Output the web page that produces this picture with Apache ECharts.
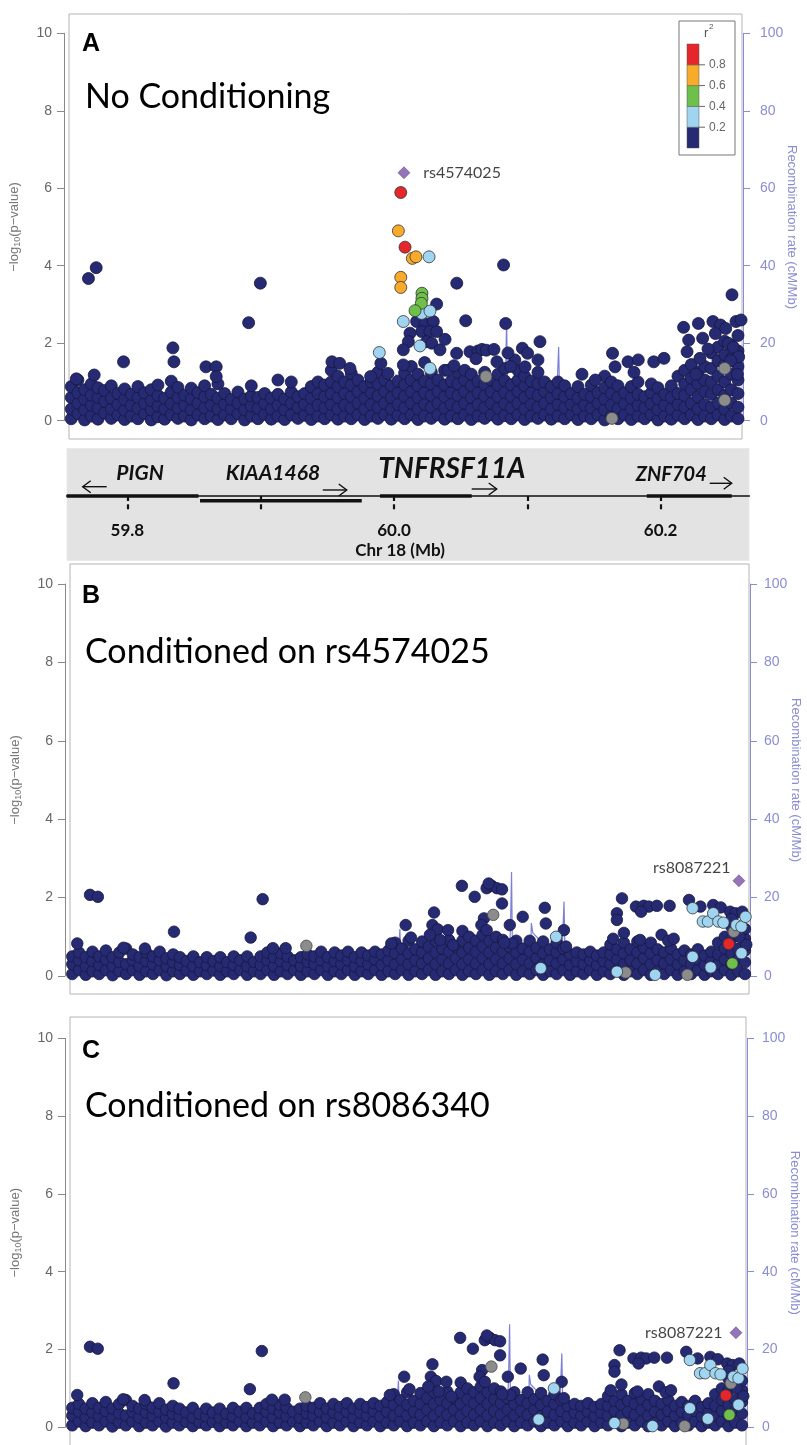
<!DOCTYPE html>
<html><head><meta charset="utf-8">
<script src="https://cdn.jsdelivr.net/npm/echarts@6/dist/echarts.min.js"></script>
<style>html,body{margin:0;padding:0;background:#fff}#c{width:807px;height:1445px}</style>
</head><body><div id="c"></div>
<script>
// ---------------- DATA ----------------
const xTicks = [59.8, 59.9, 60.0, 60.1, 60.2];
const xTickLabels = {'59.8':'59.8','60':'60.0','60.2':'60.2'};
const xMin = 59.7563, xMax = 60.2610;           // plotted region (Mb)
const geneXMin = 59.7545, geneXMax = 60.2665;   // gene track extent (Mb)
const pTicks = [0, 2, 4, 6, 8, 10];
const recTicks = [0, 20, 40, 60, 80, 100];
const r2Labels = ['0.2', '0.4', '0.6', '0.8'];
const r2Colors = ['#262a73', '#9fd5f1', '#6fbf4b', '#f8aa2b', '#e5262a'];
const grayColor = '#8c8c8c', leadColor = '#7b52a5';
const panelLetters = ['A', 'B', 'C'];
const panelTitles = ['No Conditioning', 'Conditioned on rs4574025', 'Conditioned on rs8086340'];
const leadSnpNames = ['rs4574025', 'rs8087221', 'rs8087221'];

const genes = ['PIGN', 'KIAA1468', 'TNFRSF11A', 'ZNF704'];
const geneStart = [59.7545, 59.8545, 59.9895, 60.1896];
const geneEnd = [59.8533, 59.9758, 60.0583, 60.2533];
const geneStrand = [-1, 1, 1, 1];
const geneRow = [0, 1, 0, 0];

// recombination rate (cM/Mb)
const recombPos = [59.7563,59.80,59.85,59.90,59.95,59.990,59.9995,60.0005,60.0015,60.0025,60.02,60.05,60.082,60.0837,60.0845,60.0853,60.09,60.0985,60.0992,60.1003,60.1045,60.11,60.1215,60.1225,60.1235,60.1245,60.14,60.18,60.22,60.261];
const recombRate = [0.4,0.3,0.5,0.4,0.6,0.9,1.2,6,12,1.2,0.8,0.9,1.2,12,26.5,1.5,1.1,1.0,13.5,11,9.5,1.2,1.0,10,19,1.2,0.6,0.4,0.3,0.3];

// Panel A: dense low band, columns [position, -log10 p values ...] (r2 < 0.2)
const bandA = [
[59.758,0.05,0.3,0.6,0.88],[59.763,0.18,0.45,0.72,1.05],[59.768,0.02,0.28,0.55,0.8],[59.773,0.12,0.4,0.66,0.95],
[59.778,0.04,0.33,0.6,0.85],[59.783,0.2,0.5,0.78],[59.788,0.06,0.3,0.58,0.9],[59.793,0.15,0.42,0.7],
[59.798,0.03,0.27,0.55,0.82],[59.803,0.12,0.4,0.68],[59.808,0.05,0.32,0.6,0.88],[59.813,0.18,0.45,0.72],
[59.818,0.02,0.28,0.52,0.8],[59.823,0.1,0.38,0.65,0.92],[59.828,0.04,0.3,0.58],[59.833,0.16,0.44,0.74,1.02],
[59.838,0.06,0.32,0.6,0.86],[59.843,0.12,0.4,0.66],[59.848,0.02,0.28,0.56,0.84],[59.853,0.15,0.45,0.72],
[59.858,0.05,0.33,0.62,0.9],[59.863,0.12,0.4,0.68],[59.868,0.03,0.3,0.58,0.95],[59.873,0.15,0.42,0.7],
[59.878,0.05,0.3,0.55],[59.883,0.18,0.45,0.74],[59.888,0.02,0.28,0.56],[59.893,0.12,0.38,0.64,0.9],
[59.898,0.05,0.32,0.6],[59.903,0.16,0.44,0.7],[59.908,0.04,0.3,0.58],[59.913,0.12,0.4,0.68,1.05],
[59.918,0.03,0.28,0.56],[59.923,0.15,0.45,0.74,1.0],[59.928,0.06,0.34,0.62],[59.933,0.14,0.42,0.7],
[59.938,0.03,0.3,0.58,0.88],[59.943,0.12,0.4,0.7,1.0],[59.948,0.05,0.33,0.62,0.92],[59.953,0.15,0.42,0.7,1.0,1.3],
[59.958,0.04,0.3,0.6,0.88,1.15],[59.963,0.12,0.4,0.7,1.0],[59.968,0.05,0.32,0.62,0.92,1.22],[59.973,0.15,0.45,0.75,1.05],
[59.978,0.03,0.3,0.58,0.88],[59.983,0.12,0.42,0.72,1.0],[59.988,0.06,0.34,0.64,0.95,1.25],[59.993,0.16,0.45,0.75,1.05],
[59.998,0.04,0.3,0.6,0.9],[60.003,0.14,0.42,0.72,1.02],[60.008,0.05,0.33,0.63,0.93,1.23],[60.013,0.15,0.45,0.75,1.05,1.4],
[60.018,0.03,0.3,0.6,0.9,1.2],[60.023,0.12,0.42,0.72,1.02,1.5],[60.028,0.06,0.35,0.65,0.95,1.25],[60.033,0.15,0.45,0.75,1.05],
[60.038,0.04,0.32,0.62,0.92,1.3],[60.043,0.12,0.42,0.72,1.02],[60.048,0.05,0.35,0.65,0.95,1.25],[60.053,0.15,0.45,0.75,1.05,1.3],
[60.058,0.03,0.3,0.6,0.9,1.2],[60.063,0.12,0.42,0.72,1.02],[60.068,0.06,0.34,0.64,0.94,1.25],[60.073,0.15,0.45,0.75,1.05],
[60.078,0.04,0.32,0.62,0.92,1.2],[60.083,0.13,0.43,0.73,1.03,1.35],[60.088,0.05,0.33,0.63,0.93],[60.093,0.15,0.45,0.75,1.05,1.3],
[60.098,0.03,0.3,0.6,0.9,1.15],[60.103,0.12,0.42,0.72,1.02],[60.108,0.06,0.35,0.65,0.95,1.25],[60.113,0.15,0.45,0.75,1.0],
[60.118,0.04,0.3,0.6,0.88],[60.123,0.12,0.42,0.7,1.0],[60.128,0.05,0.33,0.62,0.9],[60.133,0.15,0.42,0.7],
[60.138,0.03,0.3,0.58,0.88],[60.143,0.12,0.4,0.68],[60.148,0.05,0.33,0.62,0.92],[60.153,0.15,0.45,0.72],
[60.158,0.02,0.28,0.56,0.85,1.15],[60.163,0.12,0.4,0.7,1.0],[60.168,0.05,0.32,0.6,0.9],[60.173,0.15,0.44,0.72],
[60.178,0.03,0.3,0.58,0.88],[60.183,0.12,0.4,0.68,1.0],[60.188,0.05,0.33,0.62],[60.193,0.15,0.44,0.72,0.95],
[60.198,0.02,0.28,0.56,0.85],[60.203,0.12,0.4,0.68],[60.208,0.04,0.3,0.6,0.9],[60.213,0.14,0.42,0.7,1.15],
[60.218,0.05,0.35,0.65,0.95,1.3],[60.223,0.15,0.45,0.8,1.1,1.45],[60.228,0.03,0.3,0.62,0.95,1.25],[60.233,0.12,0.42,0.75,1.05,1.4],
[60.238,0.05,0.35,0.68,1.0,1.35,1.75],[60.243,0.15,0.45,0.8,1.15,1.55,1.9],[60.248,0.03,0.3,0.65,1.0,1.45,1.7,2.05],
[60.253,0.12,0.45,0.8,1.2,1.6,1.95],[60.258,0.05,0.35,0.7,1.05,1.4,1.8,2.2]
];
const navyA = [
[59.7709,3.67],[59.7767,3.95],[59.7618,1.08],[59.7752,1.18],[59.7972,1.52],[59.8342,1.88],[59.835,1.52],
[59.859,1.39],[59.8667,1.39],[59.8667,1.14],[59.891,2.53],[59.8998,3.55],
[59.9535,1.52],[59.9593,1.48],[59.967,1.35],[59.9825,1.14],[59.9902,1.48],[59.9955,1.22],
[60.0170,2.56],[60.0233,2.51],[60.0295,2.56],[60.0208,2.30],[60.0270,2.30],[60.0320,2.30],[60.0120,2.26],
[60.0108,2.04],[60.0245,2.04],[60.0283,2.0],[60.0070,1.83],[60.0345,1.83],[60.0383,2.10],[60.0070,1.44],
[60.0320,3.01],[60.0471,3.55],[60.0538,2.58],[60.0822,4.02],[60.0838,2.51],[60.1095,2.04],
[60.0470,1.74],[60.0570,1.78],[60.0630,1.80],[60.0660,1.84],[60.0693,1.82],[60.0750,1.84],[60.0772,1.52],
[60.0963,1.87],[60.1002,1.74],[60.1080,1.57],[60.0983,1.39],[60.0906,1.57],[60.0405,1.3],[60.045,1.42],
[60.0615,1.6],[60.0855,1.75],[60.0875,1.4],
[60.1639,1.74],[60.1658,1.39],[60.1755,1.52],[60.1832,1.57],[60.1948,1.52],[60.2025,1.61],[60.141,1.2],[60.151,1.05],[60.18,1.25],
[60.2172,2.41],[60.2283,2.51],[60.2392,2.56],[60.2449,2.47],[60.2488,2.38],[60.2565,2.56],[60.2603,2.60],[60.2210,2.08],
[60.2315,2.13],[60.2410,2.25],[60.2198,1.78],[60.2295,1.61],[60.2507,2.0],[60.2535,3.25],[60.2545,1.9],[60.2585,1.65],
[60.2525,1.55],[60.2575,1.2],[60.2355,1.85],[60.2265,1.2]
];
const lightBlueA = [[60.0263,4.23],[59.9890,1.76],[60.0070,2.56],[60.0195,1.93],[60.0208,2.77],[60.0270,2.83],[60.0270,1.35]];
const greenA = [[60.0210,3.29],[60.0210,3.16],[60.0205,3.03],[60.0158,2.84]];
const orangeA = [[60.0033,4.90],[60.0138,4.19],[60.0165,4.23],[60.0051,3.70],[60.0051,3.44]];
const redA = [[60.0051,5.89],[60.0083,4.48]];
const grayA = [[60.069,1.14],[60.248,1.35],[60.248,0.53],[60.1635,0.06]];
const leadA = [[60.0075,6.40]];

// Panels B and C (conditional analyses; read as identical within reading precision)
const bandBC = [
[59.758,0.05,0.3,0.5],[59.763,0.15,0.4,0.6],[59.768,0.03,0.25,0.48],[59.773,0.12,0.38,0.62],[59.778,0.05,0.28,0.5],
[59.783,0.15,0.42,0.65],[59.788,0.02,0.25,0.48],[59.793,0.12,0.36,0.6],[59.798,0.05,0.3,0.7],[59.803,0.15,0.4,0.55],
[59.808,0.03,0.25,0.48],[59.813,0.12,0.38,0.6],[59.818,0.05,0.3,0.5],[59.823,0.15,0.4,0.62],[59.828,0.02,0.25,0.45],
[59.833,0.12,0.35,0.55],[59.838,0.05,0.28,0.48],[59.843,0.14,0.38],[59.848,0.03,0.25,0.5],[59.853,0.12,0.35],
[59.858,0.05,0.28,0.48],[59.863,0.14,0.38],[59.868,0.03,0.25,0.48],[59.873,0.12,0.35],[59.878,0.05,0.28,0.5],
[59.883,0.15,0.4],[59.888,0.03,0.25,0.5],[59.893,0.12,0.36],[59.898,0.05,0.28,0.5],[59.903,0.15,0.4,0.6],
[59.908,0.03,0.25,0.48],[59.913,0.12,0.38,0.58],[59.918,0.05,0.28,0.5],[59.923,0.15,0.4],[59.928,0.03,0.25,0.48],
[59.933,0.12,0.36,0.55],[59.938,0.05,0.3,0.5],[59.943,0.15,0.4,0.62],[59.948,0.03,0.25,0.48],[59.953,0.12,0.38,0.6],
[59.958,0.05,0.3,0.52],[59.963,0.15,0.4,0.62],[59.968,0.03,0.25,0.48],[59.973,0.12,0.38,0.6],[59.978,0.05,0.3,0.52],
[59.983,0.15,0.42,0.62],[59.988,0.03,0.28,0.55],[59.993,0.12,0.4,0.65],[59.998,0.05,0.3,0.58,0.85],[60.003,0.15,0.42,0.7],
[60.008,0.03,0.3,0.58,0.9],[60.013,0.12,0.4,0.68],[60.018,0.05,0.32,0.6,0.88],[60.023,0.15,0.45,0.75],[60.028,0.03,0.3,0.6,0.9],
[60.033,0.12,0.42,0.7],[60.038,0.05,0.32,0.62,0.92],[60.043,0.15,0.45,0.75],[60.048,0.03,0.3,0.6,0.9,1.15],[60.053,0.12,0.42,0.72,1.0],
[60.058,0.05,0.32,0.62,0.9],[60.063,0.15,0.45,0.75,1.05],[60.068,0.03,0.3,0.6,0.9],[60.073,0.12,0.42,0.72,1.0],[60.078,0.05,0.32,0.62,0.92],
[60.083,0.15,0.45,0.75],[60.088,0.03,0.3,0.6,0.9],[60.093,0.12,0.42,0.7],[60.098,0.05,0.32,0.62,0.9],[60.103,0.15,0.45,0.72],
[60.108,0.03,0.3,0.58,0.88],[60.113,0.12,0.4,0.68],[60.118,0.05,0.32,0.6,0.85],[60.123,0.15,0.42,0.7],[60.128,0.03,0.28,0.55],
[60.133,0.12,0.38,0.6],[60.138,0.05,0.3,0.55],[60.143,0.15,0.4,0.62],[60.148,0.03,0.28,0.52],[60.153,0.12,0.38,0.6],
[60.158,0.05,0.3,0.55,0.8],[60.163,0.15,0.42,0.68],[60.168,0.03,0.3,0.58,0.85],[60.173,0.12,0.4,0.68],[60.178,0.05,0.32,0.6,0.88],
[60.183,0.15,0.45,0.72],[60.188,0.03,0.3,0.58,0.85],[60.193,0.12,0.4,0.68],[60.198,0.05,0.32,0.6],[60.203,0.15,0.42,0.7],
[60.208,0.03,0.3,0.55],[60.213,0.12,0.4,0.65],[60.218,0.05,0.3,0.55],[60.223,0.15,0.42,0.68],[60.228,0.03,0.28,0.52],
[60.233,0.12,0.38,0.62],[60.238,0.05,0.3,0.55,0.85],[60.243,0.15,0.42,0.7,1.0],[60.248,0.03,0.3,0.58,0.95,1.25],
[60.253,0.12,0.42,0.7,1.05],[60.258,0.05,0.35,0.65,0.95,1.2]
];
const navyBC = [
[59.7617,0.83],[59.7712,2.07],[59.7770,2.02],[59.8336,1.13],[59.8906,0.98],[59.8995,1.96],[59.9071,0.71],[59.9166,0.71],[59.7960,0.72],[59.8120,0.7],
[59.9951,0.83],[60.0097,0.98],[60.0058,1.3],[60.0269,1.62],[60.0257,1.30],[60.0296,1.19],[60.0373,1.17],[60.0238,1.05],[60.0315,0.92],[60.0411,0.79],
[60.0476,2.30],[60.0571,2.02],[60.0660,2.24],[60.0698,2.30],[60.0736,2.24],[60.0675,2.36],[60.0774,2.21],[60.0640,1.47],[60.0621,1.30],[60.0660,1.17],
[60.0774,1.85],[60.0832,1.30],[60.0928,1.51],[60.0851,0.83],[60.0790,0.85],[60.1092,1.74],[60.1100,1.34],[60.1234,1.17],[60.1250,0.75],
[60.1666,1.98],[60.1628,1.60],[60.1628,1.43],[60.1770,1.77],[60.1827,1.79],[60.1865,1.77],[60.1808,1.64],[60.1925,1.79],[60.2020,1.79],
[60.1600,0.95],[60.1680,1.1],[60.1800,0.92],[60.1960,1.05],[60.2010,0.9],[60.2050,0.95],
[60.2164,1.94],[60.2249,1.77],[60.2344,1.81],[60.2400,1.75],[60.2470,1.64],[60.2510,1.60],[60.2560,1.64],[60.2480,1.45],[60.2540,1.0],[60.2590,0.8]
];
const lightBlueBC = [[60.2191,1.73],[60.2267,1.39],[60.2305,1.39],[60.2344,1.60],[60.2382,1.39],[60.2420,1.36],[60.2516,1.30],[60.2554,1.26],
[60.2584,1.51],[60.2554,0.58],[60.2191,0.49],[60.2325,0.22],[60.1912,0.03],[60.1628,0.11],[60.1062,0.20],[60.1176,1.0]];
const greenBC = [[60.2486,0.32]];
const redBC = [[60.2459,0.82]];
const grayBC = [[59.9320,0.77],[60.0709,1.56],[60.2497,1.13],[60.1693,0.09],[60.2152,0.03]];
const leadBC = [[60.2535,2.43]];

// ---------------- LAYOUT / STYLE ----------------
const panels = [
  {frame:[69,14,742,439], grid:{left:69, top:33.3, width:673, height:387.4}, letterY:44, titleY:97, size:12,
   rGap:42, rMargin:17, lead:{pos:'right', dist:13, off:[0,0]}},
  {frame:[70,564,749,994], grid:{left:70, top:584, width:679, height:392}, letterY:596.5, titleY:652.5, size:11.5,
   rGap:39, rMargin:14, lead:{pos:'left', dist:2, off:[0,-13]}},
  {frame:[70,1017,746,1460], grid:{left:70, top:1038.3, width:676, height:389}, letterY:1051, titleY:1106, size:11.5,
   rGap:41, rMargin:15, lead:{pos:'left', dist:7, off:[0,0]}}
];
const geneGrid = {left:66.7, top:448, width:682.6, height:61.3};
const geneBox = [66.7, 448.3, 749.3, 560.7];
// per gene: label dx from gene centre, label dy from line, font size; arrow anchor, x offsets, dy
const geneLabelStyle = [[7.5,-22.7,21],[-8,-27.7,21],[26,-27,28],[-18,-21.7,20]];
const geneArrowStyle = [['start',16,40,-9.3],['end',-39,-15,-10.7],['end',0,25,-7],['end',-22,0,-12.7]];

const FONT = 'Liberation Sans, Arial, sans-serif';
const CAL = 'Lato, "Open Sans", sans-serif';
const axisGray = '#8a8a8a', labelGray = '#666', lav = '#8a8dd4';

function flattenBand(band){ const out=[]; band.forEach(c=>{ for(let i=1;i<c.length;i++) out.push([c[0],c[i]]); }); return out; }

const panelData = [
  {navy: flattenBand(bandA).concat(navyA), gray: grayA, lb: lightBlueA, green: greenA, orange: orangeA, red: redA, lead: leadA},
  {navy: flattenBand(bandBC).concat(navyBC), gray: grayBC, lb: lightBlueBC, green: greenBC, orange: [], red: redBC, lead: leadBC},
  {navy: flattenBand(bandBC).concat(navyBC), gray: grayBC, lb: lightBlueBC, green: greenBC, orange: [], red: redBC, lead: leadBC}
];

const grids = [], xAxes = [], yAxes = [], series = [], graphics = [];
const gridBase = {containLabel:false, outerBoundsMode:'none'};

panels.forEach((p, i) => {
  grids.push(Object.assign({}, gridBase, p.grid));
  xAxes.push({type:'value', gridIndex:i, min:xMin, max:xMax, show:false});
  yAxes.push({type:'value', gridIndex:i, min:0, max:10, interval:2, position:'left', offset:5,
    axisLine:{show:true, lineStyle:{color:axisGray, width:1}},
    axisTick:{show:true, length:7, lineStyle:{color:axisGray}},
    axisLabel:{color:labelGray, fontSize:14, fontFamily:FONT, margin:12},
    splitLine:{show:false},
    name:'−log{s|10}(p−value)', nameLocation:'middle', nameGap:42, nameRotate:90, nameMoveOverlap:false,
    nameTextStyle:{color:'#777', fontSize:13, fontFamily:FONT,
      rich:{s:{fontSize:9, color:'#777', fontFamily:FONT, verticalAlign:'bottom', padding:[6,0,0,0]}}}
  });
  yAxes.push({type:'value', gridIndex:i, min:0, max:100, interval:20, position:'right', offset:1,
    axisLine:{show:true, lineStyle:{color:lav, width:1}},
    axisTick:{show:true, length:7, lineStyle:{color:lav}},
    axisLabel:{color:lav, fontSize:14, fontFamily:FONT, margin:p.rMargin},
    splitLine:{show:false},
    name:'Recombination rate (cM/Mb)', nameLocation:'middle', nameGap:p.rGap, nameRotate:-90, nameMoveOverlap:false,
    nameTextStyle:{color:lav, fontSize:13, fontFamily:FONT}
  });
  const yL = i*2, yR = i*2+1;
  series.push({type:'line', xAxisIndex:i, yAxisIndex:yR, data:recombPos.map((x,k)=>[x,recombRate[k]]),
    showSymbol:false, symbol:'none', lineStyle:{color:'#7c80d6', width:1.2}, z:2, silent:true, animation:false});
  const d = panelData[i];
  const sc = (data, color, z, border) => ({type:'scatter', xAxisIndex:i, yAxisIndex:yL, data, symbol:'circle',
    symbolSize:p.size, clip:false, z, animation:false, silent:true,
    itemStyle:{color, borderColor:border || '#1b1b3a', borderWidth:0.8, opacity:1}});
  series.push(sc(d.navy, r2Colors[0], 3, '#16183f'));
  series.push(sc(d.gray, grayColor, 4, '#444'));
  series.push(sc(d.lb, r2Colors[1], 5, '#333'));
  series.push(sc(d.green, r2Colors[2], 6, '#333'));
  series.push(sc(d.orange, r2Colors[3], 7, '#333'));
  series.push(sc(d.red, r2Colors[4], 8, '#333'));
  series.push({type:'scatter', xAxisIndex:i, yAxisIndex:yL, data:d.lead, symbol:'diamond', symbolSize:12, clip:false,
    z:9, animation:false, silent:true, itemStyle:{color:leadColor, borderColor:'#4a3070', borderWidth:0.6},
    label:{show:true, position:p.lead.pos, distance:p.lead.dist, offset:p.lead.off, formatter:()=>leadSnpNames[i],
      color:'#111', fontSize:16, fontFamily:CAL}});
  const f = p.frame;
  graphics.push({type:'rect', shape:{x:f[0], y:f[1], width:f[2]-f[0], height:f[3]-f[1]}, z:-1,
    style:{fill:'#fff', stroke:'#b4b4b4', lineWidth:1}});
  graphics.push({type:'text', x:82, y:p.letterY, z:10, style:{text:panelLetters[i], font:'bold 25px '+FONT, fill:'#000', textVerticalAlign:'middle'}});
  graphics.push({type:'text', x:85, y:p.titleY, z:10, style:{text:panelTitles[i], font:'34px '+CAL, fill:'#000', textVerticalAlign:'middle'}});
});

// legend (r^2 colour bar) in panel A
(function(){
  const bx=679, by=21, bw=56, bh=134, cx=687, cw=12, top=44, seg=20.8;
  graphics.push({type:'rect', z:20, shape:{x:bx,y:by,width:bw,height:bh}, style:{fill:'#fff', stroke:'#777', lineWidth:1}});
  r2Colors.forEach((c,k)=>{
    graphics.push({type:'rect', z:21, shape:{x:cx, y:top+(4-k)*seg, width:cw, height:seg}, style:{fill:c, stroke:'#555', lineWidth:0.5}});
  });
  r2Labels.forEach((t,k)=>{
    const y = top + (4-k)*seg;
    graphics.push({type:'line', z:21, shape:{x1:cx+cw, y1:y, x2:cx+cw+6, y2:y}, style:{stroke:'#666', lineWidth:1}});
    graphics.push({type:'text', z:21, x:cx+cw+10, y:y, style:{text:t, font:'12px '+FONT, fill:'#666', textVerticalAlign:'middle'}});
  });
  graphics.push({type:'text', z:21, x:704, y:33, style:{text:'r', font:'13px '+FONT, fill:'#555', textVerticalAlign:'middle'}});
  graphics.push({type:'text', z:21, x:709, y:27, style:{text:'2', font:'8px '+FONT, fill:'#555', textVerticalAlign:'middle'}});
})();

// gene track
graphics.push({type:'rect', z:-2, shape:{x:geneBox[0], y:geneBox[1], width:geneBox[2]-geneBox[0], height:geneBox[3]-geneBox[1]}, style:{fill:'#e3e3e3'}});
const gIdx = panels.length;
grids.push(Object.assign({}, gridBase, geneGrid));
xAxes.push({type:'value', gridIndex:gIdx, min:geneXMin, max:geneXMax, position:'bottom',
  axisLine:{show:true, lineStyle:{color:'#111', width:1.6}},
  axisTick:{show:true, length:5, customValues:xTicks, lineStyle:{color:'#111', width:2.2}},
  axisLabel:{show:true, customValues:[59.8,60.0,60.2], margin:13, formatter:v=>xTickLabels[String(+v.toFixed(1))] || v.toFixed(1),
    color:'#111', fontSize:17, fontWeight:'bold', fontFamily:CAL},
  splitLine:{show:false},
  name:'Chr 18 (Mb)', nameLocation:'middle', nameGap:33, nameMoveOverlap:false,
  nameTextStyle:{color:'#111', fontSize:17, fontWeight:'bold', fontFamily:CAL, padding:[0,16,0,0]}
});
xAxes.push({type:'value', gridIndex:gIdx, min:geneXMin, max:geneXMax, position:'bottom',
  axisLine:{show:false}, axisLabel:{show:false}, splitLine:{show:false},
  axisTick:{show:true, inside:true, length:5, customValues:xTicks, lineStyle:{color:'#111', width:2.2}}
});
yAxes.push({type:'value', gridIndex:gIdx, min:-10.21, max:2.83, inverse:true, show:false});
const gX = xAxes.length - 2, gY = yAxes.length - 1;
series.push({type:'custom', xAxisIndex:gX, yAxisIndex:gY, clip:false, silent:true, animation:false, z:5,
  data: genes.map((g,k)=>[k, geneStart[k], geneEnd[k], geneStrand[k], geneRow[k]]),
  renderItem:(params, api)=>{
    const k = api.value(0), s = api.value(1), e = api.value(2), strand = api.value(3), row = api.value(4);
    const p0 = api.coord([s,row]), p1 = api.coord([e,row]);
    const ls = geneLabelStyle[k], as = geneArrowStyle[k];
    const base = as[0]==='start' ? p0[0] : p1[0];
    const ax1 = base+as[1], ax2 = base+as[2], ay = p0[1]+as[3];
    const tip = strand>0 ? ax2 : ax1, dir = strand>0 ? -1 : 1;
    return {type:'group', children:[
      {type:'line', shape:{x1:p0[0], y1:p0[1], x2:p1[0], y2:p1[1]}, style:{stroke:'#111', lineWidth:3.6}},
      {type:'line', shape:{x1:ax1, y1:ay, x2:ax2, y2:ay}, style:{stroke:'#111', lineWidth:1.4}},
      {type:'polyline', shape:{points:[[tip+dir*8, ay-6],[tip, ay],[tip+dir*8, ay+6]]}, style:{stroke:'#111', lineWidth:1.4, fill:null}},
      {type:'text', x:(p0[0]+p1[0])/2+ls[0], y:p0[1]+ls[1], style:{text:genes[k], font:'italic bold '+ls[2]+'px '+CAL,
        fill:'#111', textAlign:'center', textVerticalAlign:'middle'}}
    ]};
  }
});

const chart = echarts.init(document.getElementById('c'), null, {renderer:'canvas', width:807, height:1445});
chart.setOption({
  backgroundColor:'#fff', animation:false,
  grid:grids, xAxis:xAxes, yAxis:yAxes, series, graphic:{elements:graphics}
});
</script></body></html>
